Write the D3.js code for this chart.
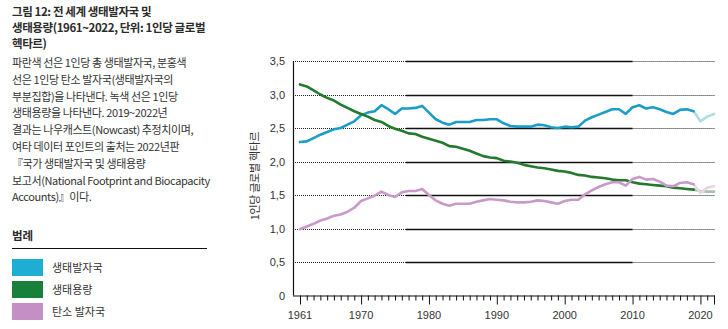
<!DOCTYPE html>
<html>
<head>
<meta charset="utf-8">
<script src="https://cdn.jsdelivr.net/npm/d3@7"></script>
<style>
  body { margin: 0; background: #fff; }
  svg { display: block; font-family: "Noto Sans CJK KR", "Noto Sans", sans-serif; }
</style>
</head>
<body>
<div id="chart"></div>
<script>
// 1961 ~ 2022
const years = d3.range(1961, 2023);

const footprint = [
  2.29, 2.30, 2.35, 2.40, 2.44, 2.48, 2.50, 2.55, 2.60, 2.69,
  2.73, 2.75, 2.84, 2.78, 2.71, 2.79, 2.79, 2.80, 2.83, 2.73,
  2.63, 2.58, 2.55, 2.59, 2.59, 2.59, 2.62, 2.62, 2.63, 2.63,
  2.57, 2.53, 2.52, 2.52, 2.52, 2.55, 2.54, 2.51, 2.50, 2.52,
  2.51, 2.52, 2.61, 2.66, 2.70, 2.74, 2.78, 2.78, 2.71, 2.81,
  2.84, 2.79, 2.81, 2.78, 2.74, 2.71, 2.77, 2.78, 2.75, 2.60,
  2.67, 2.71
];

const biocapacity = [
  3.15, 3.12, 3.06, 3.00, 2.95, 2.91, 2.85, 2.80, 2.75, 2.71,
  2.67, 2.62, 2.59, 2.53, 2.49, 2.46, 2.42, 2.41, 2.37, 2.34,
  2.31, 2.28, 2.23, 2.22, 2.19, 2.16, 2.12, 2.08, 2.06, 2.05,
  2.01, 2.00, 1.98, 1.95, 1.93, 1.91, 1.90, 1.88, 1.86, 1.85,
  1.83, 1.80, 1.79, 1.77, 1.76, 1.75, 1.73, 1.72, 1.72, 1.69,
  1.67, 1.66, 1.65, 1.64, 1.63, 1.61, 1.60, 1.59, 1.58, 1.56,
  1.55, 1.55
];

const carbon = [
  0.99, 1.03, 1.07, 1.12, 1.15, 1.19, 1.21, 1.25, 1.31, 1.41,
  1.45, 1.49, 1.55, 1.50, 1.47, 1.54, 1.56, 1.56, 1.59, 1.50,
  1.42, 1.37, 1.34, 1.37, 1.37, 1.37, 1.40, 1.42, 1.44, 1.43,
  1.42, 1.40, 1.39, 1.39, 1.40, 1.42, 1.41, 1.39, 1.37, 1.41,
  1.43, 1.43, 1.51, 1.57, 1.62, 1.66, 1.69, 1.69, 1.64, 1.74,
  1.77, 1.73, 1.74, 1.70, 1.64, 1.63, 1.68, 1.69, 1.66, 1.53,
  1.61, 1.63
];

const nowcastFrom = 2019;

const yTicks = [0, 0.5, 1, 1.5, 2, 2.5, 3, 3.5];
const xLabels = [1961, 1970, 1980, 1990, 2000, 2010, 2020];

const titleLines = [
  "그림 12: 전 세계 생태발자국 및",
  "생태용량(1961~2022, 단위: 1인당 글로벌",
  "헥타르)"
];
const noteLines = [
  "파란색 선은 1인당 총 생태발자국, 분홍색",
  "선은 1인당 탄소 발자국(생태발자국의",
  "부분집합)을 나타낸다. 녹색 선은 1인당",
  "생태용량을 나타낸다. 2019~2022년",
  "결과는 나우캐스트(Nowcast) 추정치이며,",
  "여타 데이터 포인트의 출처는 2022년판",
  "『국가 생태발자국 및 생태용량",
  "보고서(National Footprint and Biocapacity",
  "Accounts)』이다."
];

const series = [
  { name: "생태발자국", values: footprint, color: "#1b9dc8", swatch: "#1eaed3", light: "#b0dae6" },
  { name: "생태용량", values: biocapacity, color: "#237a2c", swatch: "#17803a", light: "#a9c4aa" },
  { name: "탄소 발자국", values: carbon, color: "#c899c9", swatch: "#c48fc4", light: "#e6d6e6" }
];

const width = 728, height = 329;
const margin = { top: 61, right: 14, bottom: 33, left: 300 };

const svg = d3.select("#chart").append("svg")
  .attr("width", width).attr("height", height);

// ---- left text panel
const panel = svg.append("g").attr("fill", "#2b2b2b");
panel.selectAll("text.title").data(titleLines).join("text")
  .attr("class", "title")
  .attr("x", 12).attr("y", (d, i) => 16 + i * 16)
  .attr("font-size", 11.5).attr("font-weight", 700)
  .attr("letter-spacing", -0.4)
  .text(d => d);

panel.selectAll("text.note").data(noteLines).join("text")
  .attr("class", "note")
  .attr("x", 12).attr("y", (d, i) => 67 + i * 16.8)
  .attr("font-size", 11).attr("letter-spacing", -0.4)
  .attr("fill", "#333")
  .text(d => d);

panel.append("text")
  .attr("x", 12).attr("y", 240)
  .attr("font-size", 11.5).attr("font-weight", 700)
  .text("범례");
panel.append("line")
  .attr("x1", 12).attr("x2", 207).attr("y1", 248.5).attr("y2", 248.5)
  .attr("stroke", "#111").attr("stroke-width", 1);

const legend = panel.selectAll("g.leg").data(series).join("g")
  .attr("class", "leg")
  .attr("transform", (d, i) => `translate(12,${259 + i * 22})`);
legend.append("rect")
  .attr("width", 31).attr("height", 17)
  .attr("fill", d => d.swatch);
legend.append("text")
  .attr("x", 40).attr("y", 12.5)
  .attr("font-size", 11).attr("fill", "#333")
  .text(d => d.name);

// ---- chart
const x = d3.scaleLinear().domain([1961, 2022]).range([margin.left, width - margin.right]);
const y = d3.scaleLinear().domain([0, 3.5]).range([height - margin.bottom - 0.5, margin.top]);

const axisX0 = 293;

// gridlines: dotted / solid / dotted
const grid = svg.append("g");
const gridVals = yTicks.filter(v => v > 0);
const splitA = x(1976.6), splitB = x(2010);
grid.selectAll("line.gd1").data(gridVals).join("line")
  .attr("x1", axisX0).attr("x2", splitA)
  .attr("y1", d => Math.round(y(d)) + 0.5).attr("y2", d => Math.round(y(d)) + 0.5)
  .attr("stroke", "#222").attr("stroke-width", 1).attr("stroke-dasharray", "1,1");
grid.selectAll("line.gs").data(gridVals).join("line")
  .attr("x1", splitA).attr("x2", splitB)
  .attr("y1", d => Math.round(y(d)) + 0.5).attr("y2", d => Math.round(y(d)) + 0.5)
  .attr("stroke", "#111").attr("stroke-width", 1.3);
grid.selectAll("line.gd2").data(gridVals).join("line")
  .attr("x1", splitB).attr("x2", x(2022) + 1)
  .attr("y1", d => Math.round(y(d)) + 0.5).attr("y2", d => Math.round(y(d)) + 0.5)
  .attr("stroke", "#222").attr("stroke-width", 1).attr("stroke-dasharray", "1,1");

// y axis
svg.append("line")
  .attr("x1", axisX0 + 0.5).attr("x2", axisX0 + 0.5)
  .attr("y1", y(3.5)).attr("y2", y(0))
  .attr("stroke", "#111").attr("stroke-width", 1.2);
svg.append("g").selectAll("text").data(yTicks).join("text")
  .attr("x", 285).attr("y", d => y(d) + 4)
  .attr("text-anchor", "end")
  .attr("font-family", "Liberation Sans, Arial, sans-serif")
  .attr("font-size", 11).attr("fill", "#333")
  .text(d => d === 0 ? "0" : d3.format(".1f")(d).replace(".", ","));

svg.append("text")
  .attr("transform", `translate(259,176) rotate(-90)`)
  .attr("text-anchor", "middle")
  .attr("font-size", 11).attr("fill", "#333")
  .attr("letter-spacing", -0.3)
  .text("1인당 글로벌 헥타르");

// x axis
const xAxisG = svg.append("g")
  .attr("transform", `translate(0,${y(0)})`)
  .call(d3.axisBottom(x)
    .tickValues(years)
    .tickFormat("")
    .tickSize(5)
    .tickSizeOuter(0));
xAxisG.select(".domain")
  .attr("d", `M${axisX0},0.5H${x(2022) + 1}`)
  .attr("stroke", "#111").attr("stroke-width", 1.2);
xAxisG.selectAll(".tick line")
  .attr("stroke", "#111")
  .attr("y2", d => (xLabels.includes(d) || d === 2022) ? 9 : 5);

svg.append("g").selectAll("text").data(xLabels).join("text")
  .attr("x", d => x(d)).attr("y", y(0) + 23)
  .attr("text-anchor", "middle")
  .attr("font-family", "Liberation Sans, Arial, sans-serif")
  .attr("font-size", 11).attr("fill", "#333")
  .text(d => d);

// lines
const line = d3.line()
  .x(d => x(d.year))
  .y(d => y(d.value));

const lines = svg.append("g").attr("fill", "none")
  .attr("stroke-width", 2.6).attr("stroke-linejoin", "round").attr("stroke-linecap", "round");

series.forEach(s => {
  const pts = years.map((yr, i) => ({ year: yr, value: s.values[i] }));
  lines.append("path")
    .datum(pts.filter(p => p.year >= nowcastFrom))
    .attr("stroke", s.light)
    .attr("d", line);
  lines.append("path")
    .datum(pts.filter(p => p.year <= nowcastFrom))
    .attr("stroke", s.color)
    .attr("d", line);
});
</script>
</body>
</html>
